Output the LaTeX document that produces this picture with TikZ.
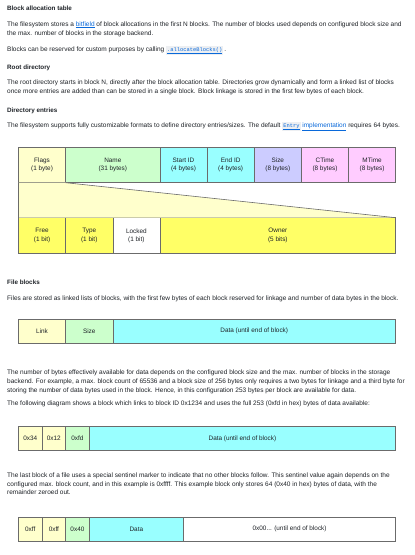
\documentclass[tikz,border=0pt]{standalone}
\usepackage{fontspec}
\setmainfont{Liberation Sans}
\setmonofont{Liberation Mono}
\usetikzlibrary{positioning}
\definecolor{bodyink}{HTML}{1F2328}
\definecolor{linkblue}{HTML}{0969DA}
\definecolor{codebg}{HTML}{EDEFF2}
\definecolor{paleyellow}{HTML}{FFFFCC}
\definecolor{palegreen}{HTML}{CCFFCC}
\definecolor{palecyan}{HTML}{99FFFF}
\definecolor{palelilac}{HTML}{CCCCFF}
\definecolor{palepink}{HTML}{FFCCFF}
\definecolor{brightyellow}{HTML}{FFFF66}
\definecolor{cellline}{HTML}{6B6B6B}
\newcommand{\linktext}[1]{\textcolor{linkblue}{\underline{#1}}}
\newcommand{\codetext}[1]{{\setlength{\fboxsep}{1pt}\colorbox{codebg}{\textcolor{linkblue}{\ttfamily\fontsize{5.4}{7}\selectfont\underline{#1}}}}}
\newcommand{\fieldunit}{47.15pt}
\tikzset{
    headtext/.style={anchor=base west,inner sep=0pt,text=bodyink,font=\fontsize{6.3}{7}\selectfont\bfseries},
    bodytext/.style={anchor=base west,inner sep=0pt,text=bodyink,font=\fontsize{6.5}{7}\selectfont},
    cell/.style={draw=cellline,line width=0.6pt,inner sep=0pt,outer sep=0pt,align=center,
                 text=bodyink,font=\fontsize{6.4}{8.3}\selectfont,minimum height=#1},
    span/.style={minimum width=#1*\fieldunit}
}

\begin{document}
\begin{tikzpicture}[x=1pt,y=-1pt]

    \useasboundingbox[fill=white] (0,0) rectangle (415,555);

    % block allocation table
    \node[headtext] (alloc head)   at (7,10.5)  {Block allocation table};
    \node[bodytext] (alloc text 1) at (7,26)    {The filesystem stores a \linktext{bitfield} of block allocations in the first N blocks. The number of blocks used depends on configured block size and};
    \node[bodytext] (alloc text 2) at (7,35)    {the max. number of blocks in the storage backend.};
    \node[bodytext] (alloc text 3) at (7,51)    {Blocks can be reserved for custom purposes by calling \codetext{.allocateBlocks()}\,.};

    % root directory
    \node[headtext] (root head)    at (7,69)    {Root directory};
    \node[bodytext] (root text 1)  at (7,84)    {The root directory starts in block N, directly after the block allocation table. Directories grow dynamically and form a linked list of blocks};
    \node[bodytext] (root text 2)  at (7,93)    {once more entries are added than can be stored in a single block. Block linkage is stored in the first few bytes of each block.};

    % directory entries
    \node[headtext] (entry head)   at (7,112)   {Directory entries};
    \node[bodytext] (entry text)   at (7,127)   {The filesystem supports fully customizable formats to define directory entries/sizes. The default \codetext{Entry} \linktext{implementation} requires 64 bytes.};

    \node[cell=35.4pt,span=1,fill=paleyellow,anchor=north west] (flags) at (18.5,147.3) {Flags\\(1 byte)};
    \node[cell=35.4pt,span=2,fill=palegreen,right=0pt of flags]  (name)   {Name\\(31 bytes)};
    \node[cell=35.4pt,span=1,fill=palecyan,right=0pt of name]    (start)  {Start ID\\(4 bytes)};
    \node[cell=35.4pt,span=1,fill=palecyan,right=0pt of start]   (end)    {End ID\\(4 bytes)};
    \node[cell=35.4pt,span=1,fill=palelilac,right=0pt of end]    (size)   {Size\\(8 bytes)};
    \node[cell=35.4pt,span=1,fill=palepink,right=0pt of size]    (ctime)  {CTime\\(8 bytes)};
    \node[cell=35.4pt,span=1,fill=palepink,right=0pt of ctime]   (mtime)  {MTime\\(8 bytes)};

    \node[cell=35.6pt,span=1,fill=brightyellow,anchor=north west] (free) at (18.5,217.7) {Free\\(1 bit)};
    \node[cell=35.6pt,span=1,fill=brightyellow,right=0pt of free] (type)   {Type\\(1 bit)};
    \node[cell=35.6pt,span=1,fill=white,right=0pt of type]        (locked) {Locked\\(1 bit)};
    \node[cell=35.6pt,span=5,fill=brightyellow,right=0pt of locked] (owner) {Owner\\(5 bits)};

    \fill[paleyellow] (flags.south west) -- (flags.south east) -- (owner.north east) -- (free.north west) -- cycle;
    \draw[cellline,line width=0.6pt] (flags.south west) -- (free.north west);
    \draw[cellline,line width=0.6pt] (flags.south east) -- (owner.north east);

    % file blocks
    \node[headtext] (file head)    at (7,284)   {File blocks};
    \node[bodytext] (file text)    at (7,300)   {Files are stored as linked lists of blocks, with the first few bytes of each block reserved for linkage and number of data bytes in the block.};

    \node[cell=24pt,span=1,fill=paleyellow,anchor=north west] (link) at (18.5,319.3) {Link};
    \node[cell=24pt,span=1,fill=palegreen,right=0pt of link]      (count) {Size};
    \node[cell=24pt,span=6,fill=palecyan,right=0pt of count]      (data)  {Data (until end of block)};

    \node[bodytext] (bytes text 1) at (7,374)   {The number of bytes effectively available for data depends on the configured block size and the max. number of blocks in the storage};
    \node[bodytext] (bytes text 2) at (7,383)   {backend. For example, a max. block count of 65536 and a block size of 256 bytes only requires a two bytes for linkage and a third byte for};
    \node[bodytext] (bytes text 3) at (7,392)   {storing the number of data bytes used in the block. Hence, in this configuration 253 bytes per block are available for data.};
    \node[bodytext] (bytes text 4) at (7,405)   {The following diagram shows a block which links to block ID 0x1234 and uses the full 253 (0xfd in hex) bytes of data available:};

    \node[cell=23.3pt,span=0.5,fill=paleyellow,anchor=north west] (lo a) at (18.5,426.7) {0x34};
    \node[cell=23.3pt,span=0.5,fill=paleyellow,right=0pt of lo a] (hi a)   {0x12};
    \node[cell=23.3pt,span=0.5,fill=palegreen,right=0pt of hi a]  (len a)  {0xfd};
    \node[cell=23.3pt,span=6.5,fill=palecyan,right=0pt of len a]  (data a) {Data (until end of block)};

    \node[bodytext] (last text 1)  at (7,477.5) {The last block of a file uses a special sentinel marker to indicate that no other blocks follow. This sentinel value again depends on the};
    \node[bodytext] (last text 2)  at (7,486)   {configured max. block count, and in this example is 0xffff. This example block only stores 64 (0x40 in hex) bytes of data, with the};
    \node[bodytext] (last text 3)  at (7,494.5) {remainder zeroed out.};

    \node[cell=23.7pt,span=0.5,fill=paleyellow,anchor=north west] (lo b) at (18.5,517.3) {0xff};
    \node[cell=23.7pt,span=0.5,fill=paleyellow,right=0pt of lo b] (hi b)   {0xff};
    \node[cell=23.7pt,span=0.5,fill=palegreen,right=0pt of hi b]  (len b)  {0x40};
    \node[cell=23.7pt,span=2,fill=palecyan,right=0pt of len b]    (data b) {Data};
    \node[cell=23.7pt,span=4.5,fill=white,right=0pt of data b]    (zero b) {0x00... (until end of block)};

\end{tikzpicture}
\end{document}
